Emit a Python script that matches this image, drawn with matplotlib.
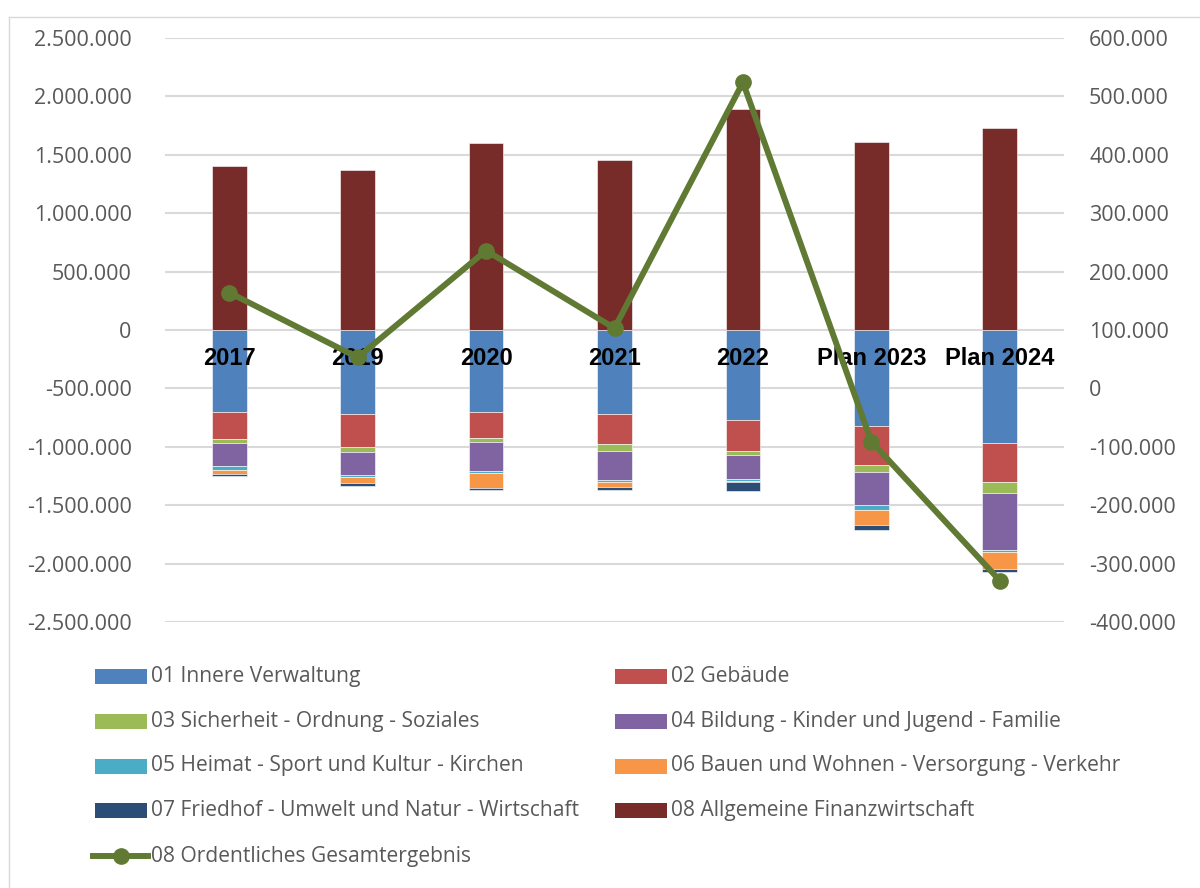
import matplotlib
matplotlib.use("Agg")
import matplotlib.pyplot as plt
from matplotlib.patches import Rectangle
from matplotlib.lines import Line2D
import numpy as np

plt.rcParams['font.family'] = ['Open Sans', 'DejaVu Sans']

categories = ["2017", "2019", "2020", "2021", "2022", "Plan 2023", "Plan 2024"]

s01 = [-700000, -719000, -700000, -722000, -770000, -824000, -965000]
s02 = [-236000, -282000, -225000, -252000, -265000, -334000, -336000]
s03 = [-29000, -40000, -34000, -62000, -31000, -60000, -94000]
s04 = [-200000, -202000, -248000, -248000, -208000, -282000, -488000]
s05 = [-34000, -14000, -17000, -17000, -17000, -40000, -20000]
s06 = [-34000, -49000, -128000, -40000, -14000, -131000, -143000]
s07 = [-14000, -28000, -20000, -26000, -71000, -43000, -28000]
s08 = [1400000, 1370000, 1600000, 1455000, 1892000, 1610000, 1729000]
gesamt = [164000, 53000, 236000, 103000, 524000, -91000, -329000]

labels = ["01 Innere Verwaltung", "02 Gebäude", "03 Sicherheit - Ordnung - Soziales",
          "04 Bildung - Kinder und Jugend - Familie", "05 Heimat - Sport und Kultur - Kirchen",
          "06 Bauen und Wohnen - Versorgung - Verkehr", "07 Friedhof - Umwelt und Natur - Wirtschaft",
          "08 Allgemeine Finanzwirtschaft"]
line_label = "08 Ordentliches Gesamtergebnis"
colors = ["#4F81BD", "#C0504D", "#9BBB59", "#8064A2", "#4BACC6", "#F79646", "#2C4D75", "#772C2A"]
line_color = "#617A33"

W, H = 1200, 888
fig = plt.figure(figsize=(12, 8.88), dpi=100)
ax = fig.add_axes([165/W, 1-622/H, (1064-165)/W, (622-38)/H])

x = np.arange(len(categories))
bw = 0.27
neg_series = [s01, s02, s03, s04, s05, s06, s07]
bottom = np.zeros(len(categories))
for vals, c in zip(neg_series, colors[:7]):
    v = np.array(vals, dtype=float)
    ax.bar(x, v, bw, bottom=bottom, color=c, edgecolor="white", linewidth=0.4, zorder=2)
    bottom = bottom + v
ax.bar(x, s08, bw, color=colors[7], edgecolor="white", linewidth=0.4, zorder=2)

ax.set_xlim(-0.5, len(categories)-0.5)
ax.set_ylim(-2500000, 2500000)
yt = np.arange(-2500000, 2500001, 500000)
ax.set_yticks(yt)
def fmt(v):
    s = f"{abs(int(v)):,}".replace(",", ".")
    return ("-" + s) if v < 0 else s
ax.set_yticklabels([fmt(v) for v in yt])
ax.set_xticks([])
ax.grid(axis="y", color="#D9D9D9", linewidth=1.5, zorder=0)
ax.set_axisbelow(True)
for sp in ax.spines.values():
    sp.set_visible(False)
ax.tick_params(axis="y", length=0, pad=24, labelsize=15.5, labelcolor="#595959")

for i, c in enumerate(categories):
    ax.text(i, -240000, c, ha="center", va="center", fontsize=17, fontweight="bold",
            family=["Liberation Sans", "DejaVu Sans"], color="black", zorder=3)

ax2 = ax.twinx()
ax2.plot(x, gesamt, color=line_color, linewidth=4.3, marker="o", markersize=11, zorder=5)
ax2.set_ylim(-400000, 600000)
yt2 = np.arange(-400000, 600001, 100000)
ax2.set_yticks(yt2)
ax2.set_yticklabels([fmt(v) for v in yt2])
for sp in ax2.spines.values():
    sp.set_visible(False)
ax2.tick_params(axis="y", length=0, pad=18, labelsize=15.5, labelcolor="#595959")

# legend (manual, row-wise)
ord_items = [(labels[i], colors[i]) for i in range(8)]
rows_y = [676, 721, 766, 810]
col_x = [95, 615]
for k, (lab, c) in enumerate(ord_items):
    r, col = divmod(k, 2)
    px, py = col_x[col], rows_y[r]
    fig.patches.append(Rectangle((px/W, 1-(py+7.5)/H), 52/W, 15/H, transform=fig.transFigure,
                                 facecolor=c, edgecolor="none"))
    fig.text((px+56)/W, 1-py/H, lab, ha="left", va="center", fontsize=15.1, color="#595959")
py = 856
fig.lines.append(Line2D([93/W, 148/W], [1-py/H, 1-py/H], transform=fig.transFigure,
                        color=line_color, linewidth=4.3))
fig.lines.append(Line2D([121/W], [1-py/H], transform=fig.transFigure, color=line_color,
                        marker="o", markersize=11, linestyle="none"))
fig.text(151/W, 1-py/H, line_label, ha="left", va="center", fontsize=15.1, color="#595959")

# outer border
fig.lines.append(Line2D([9/W, 9/W], [0, 1-17/H], transform=fig.transFigure, color="#D9D9D9", linewidth=1))
fig.lines.append(Line2D([9/W, 1], [1-17/H, 1-17/H], transform=fig.transFigure, color="#D9D9D9", linewidth=1))

fig.savefig("out.png", dpi=100)
